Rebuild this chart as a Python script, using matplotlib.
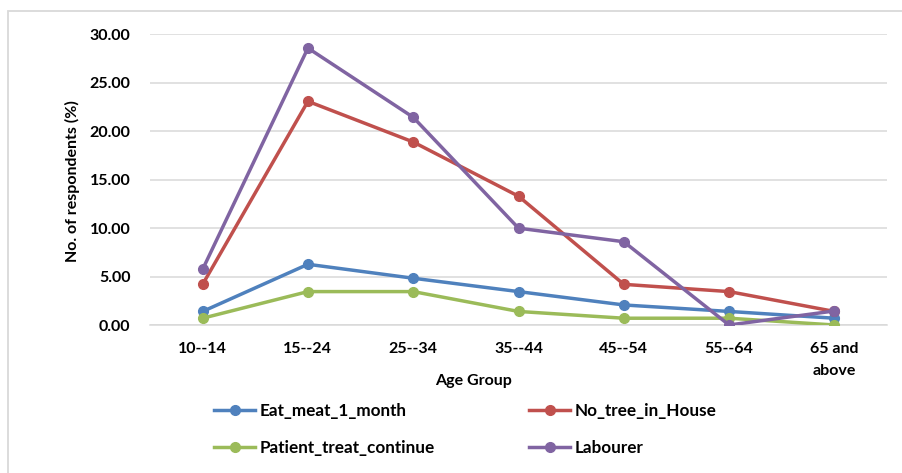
import matplotlib
matplotlib.use("Agg")
import matplotlib.pyplot as plt
from matplotlib.patches import Rectangle

plt.rcParams['font.family'] = ['Lato', 'DejaVu Sans']
plt.rcParams['font.weight'] = 'bold'

age_groups = ["10--14", "15--24", "25--34", "35--44", "45--54", "55--64", "65 and\nabove"]
eat_meat_1_month = [1.40, 6.27, 4.83, 3.45, 2.07, 1.40, 0.70]
no_tree_in_house = [4.20, 23.10, 18.90, 13.30, 4.20, 3.45, 1.40]
patient_treat_continue = [0.70, 3.45, 3.45, 1.40, 0.70, 0.70, 0.00]
labourer = [5.75, 28.60, 21.45, 10.00, 8.60, 0.00, 1.45]
y_ticks = [0, 5, 10, 15, 20, 25, 30]

series = [
    ("Eat_meat_1_month", eat_meat_1_month, "#4F81BD"),
    ("No_tree_in_House", no_tree_in_house, "#C0504D"),
    ("Patient_treat_continue", patient_treat_continue, "#9BBB59"),
    ("Labourer", labourer, "#8064A2"),
]

FS = 11.5
W, H = 902, 473
fig = plt.figure(figsize=(W / 100, H / 100), dpi=100)
ax = fig.add_axes([150 / W, 1 - 325 / H, (887 - 150) / W, (325 - 34.5) / H])

x = [i + 0.5 for i in range(len(age_groups))]
handles = {}
for name, vals, col in series:
    (ln,) = ax.plot(x, vals, color=col, lw=2.5, marker="o", ms=7,
                    label=name, solid_joinstyle="round", zorder=3)
    handles[name] = ln

ax.set_xlim(0, len(age_groups))
ax.set_ylim(0, 30)
ax.set_yticks(y_ticks)
ax.set_yticklabels([f"{v:.2f}" for v in y_ticks])
ax.set_xticks(x)
ax.set_xticklabels(age_groups, linespacing=1.75)
ax.tick_params(axis="both", length=0, labelsize=FS, colors="black")
ax.tick_params(axis="y", pad=14)
ax.tick_params(axis="x", pad=12)
ax.yaxis.grid(True, color="#D9D9D9", lw=1.1)
ax.set_axisbelow(True)
for s in ["top", "right", "left"]:
    ax.spines[s].set_visible(False)
ax.spines["bottom"].set_color("#D9D9D9")
ax.spines["bottom"].set_linewidth(1.1)

fig.text(474 / W, 1 - 381 / H, "Age Group", ha="center", va="center",
         fontsize=FS, fontweight="bold")
fig.text(72 / W, 1 - 181 / H, "No. of respondents (%)", rotation=90,
         ha="center", va="center", fontsize=FS, fontweight="bold")

leg_kw = dict(frameon=False, fontsize=12.3, handlelength=2.4,
              handletextpad=0.25, labelspacing=1.25, borderpad=0,
              borderaxespad=0, loc="upper left")
leg1 = fig.legend([handles["Eat_meat_1_month"], handles["Patient_treat_continue"]],
                  ["Eat_meat_1_month", "Patient_treat_continue"],
                  bbox_to_anchor=(214 / W, 1 - 403 / H), **leg_kw)
leg2 = fig.legend([handles["No_tree_in_House"], handles["Labourer"]],
                  ["No_tree_in_House", "Labourer"],
                  bbox_to_anchor=(529 / W, 1 - 403 / H), **leg_kw)

fig.patches.append(Rectangle((8 / W, -0.02), 1.1, 1 - 11 / H + 0.02,
                             transform=fig.transFigure, fill=False,
                             edgecolor="#D9D9D9", lw=1.3))

fig.savefig("out.png", dpi=100, facecolor="white")
